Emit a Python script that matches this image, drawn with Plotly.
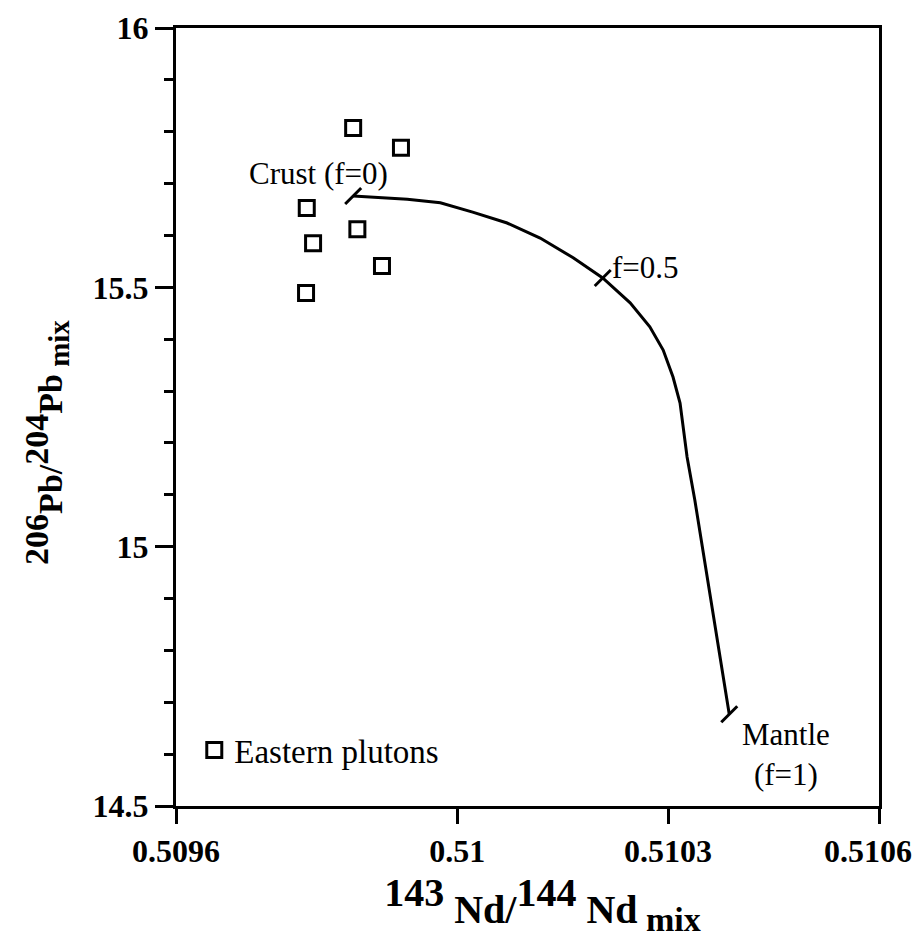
import plotly.graph_objects as go

# Eastern plutons: measured isotope ratios
pluton_nd = [0.509852, 0.509920, 0.509786, 0.509858, 0.509795, 0.509893, 0.509785]
pluton_pb = [15.807, 15.769, 15.653, 15.612, 15.585, 15.541, 15.489]

# Crust-mantle mixing curve, from crust (f=0) to mantle (f=1)
mix_nd = [0.509852, 0.509880, 0.509929, 0.509976, 0.510022, 0.510071, 0.510118,
          0.510165, 0.510207, 0.510246, 0.510274, 0.510293, 0.510307, 0.510317,
          0.510321, 0.510327, 0.510338, 0.510387]
mix_pb = [15.676, 15.674, 15.670, 15.663, 15.645, 15.624, 15.595,
          15.557, 15.518, 15.470, 15.424, 15.379, 15.327, 15.277,
          15.238, 15.173, 15.090, 14.677]
# indices of the curve points marked f=0, f=0.5, f=1
f_marks = [0, 8, len(mix_nd) - 1]

x_ticks = [0.5096, 0.5100, 0.5103, 0.5106]
x_tick_text = ["0.5096", "0.51", "0.5103", "0.5106"]
y_ticks = [14.5, 15.0, 15.5, 16.0]
y_tick_text = ["14.5", "15", "15.5", "16"]

SERIF = "Liberation Serif"

fig = go.Figure()

fig.add_trace(go.Scatter(
    x=mix_nd, y=mix_pb, mode="lines",
    line=dict(color="black", width=3),
    showlegend=False, hoverinfo="skip",
))

fig.add_trace(go.Scatter(
    x=[mix_nd[i] for i in f_marks], y=[mix_pb[i] for i in f_marks],
    mode="markers",
    marker=dict(symbol="line-ne", size=16, line=dict(color="black", width=3)),
    showlegend=False, hoverinfo="skip",
))

fig.add_trace(go.Scatter(
    x=pluton_nd, y=pluton_pb, mode="markers", name="Eastern plutons",
    marker=dict(symbol="square-open", size=15, color="black",
                line=dict(color="black", width=3)),
))

label_font = dict(family=SERIF, size=31, color="black")
fig.add_annotation(x=0.509701, y=15.720, text="Crust (f=0)", showarrow=False,
                   xanchor="left", yanchor="middle", font=label_font)
fig.add_annotation(x=0.510217, y=15.539, text="f=0.5", showarrow=False,
                   xanchor="left", yanchor="middle", font=label_font)
fig.add_annotation(x=0.510468, y=14.600, text="Mantle<br>(f=1)", showarrow=False,
                   xanchor="center", yanchor="middle", align="center",
                   font=label_font)

tick_font = dict(family=SERIF, size=32, color="black", weight="bold")
title_font = dict(family=SERIF, size=40, color="black", weight="bold")
ytitle_font = dict(family=SERIF, size=34, color="black", weight="bold")

# last x tick label sits at the right edge, so it is drawn slightly inset
fig.add_annotation(x=x_ticks[-1], y=0, xref="x", yref="paper",
                   text=x_tick_text[-1], showarrow=False,
                   xanchor="center", yanchor="middle", xshift=-11, yshift=-45,
                   font=tick_font)

fig.update_xaxes(
    range=[0.5096, 0.5106], tickvals=x_ticks, ticktext=x_tick_text[:-1] + [""],
    automargin=False,
    showline=True, linecolor="black", linewidth=3, mirror=True,
    ticks="outside", ticklen=15, tickwidth=3, tickcolor="black",
    showgrid=False, zeroline=False, tickfont=tick_font,
    title=dict(
        text="&nbsp;&nbsp;&nbsp;"
             "<sup><span style=\"font-size:40px\">143</span></sup> Nd/"
             "<sup><span style=\"font-size:40px\">144</span></sup> Nd"
             "<sub><span style=\"font-size:34px\"> mix</span></sub>",
        font=title_font, standoff=30),
)
fig.update_yaxes(
    range=[14.5, 16.0], tickvals=y_ticks, ticktext=y_tick_text,
    automargin=False,
    showline=True, linecolor="black", linewidth=3, mirror=True,
    ticks="outside", ticklen=18, tickwidth=3, tickcolor="black",
    minor=dict(dtick=0.1, tick0=14.5, ticks="outside", ticklen=9,
               tickwidth=3, tickcolor="black", showgrid=False),
    showgrid=False, zeroline=False, tickfont=tick_font,
    title=dict(
        text="<sup><span style=\"font-size:34px\">206</span></sup>Pb/"
             "<sup><span style=\"font-size:34px\">204</span></sup>Pb"
             "<sub><span style=\"font-size:29px\"> mix</span></sub>"
             "&nbsp;&nbsp;&nbsp;&nbsp;&nbsp;&nbsp;",
        font=ytitle_font, standoff=20),
)

fig.update_layout(
    width=920, height=938,
    margin=dict(l=176, r=41, t=28, b=132, autoexpand=False),
    paper_bgcolor="white", plot_bgcolor="white",
    showlegend=True,
    legend=dict(x=0.026, y=0.072, xanchor="left", yanchor="middle",
                font=dict(family=SERIF, size=33, color="black"),
                bgcolor="rgba(0,0,0,0)", borderwidth=0),
)

fig.write_html("out.html")
